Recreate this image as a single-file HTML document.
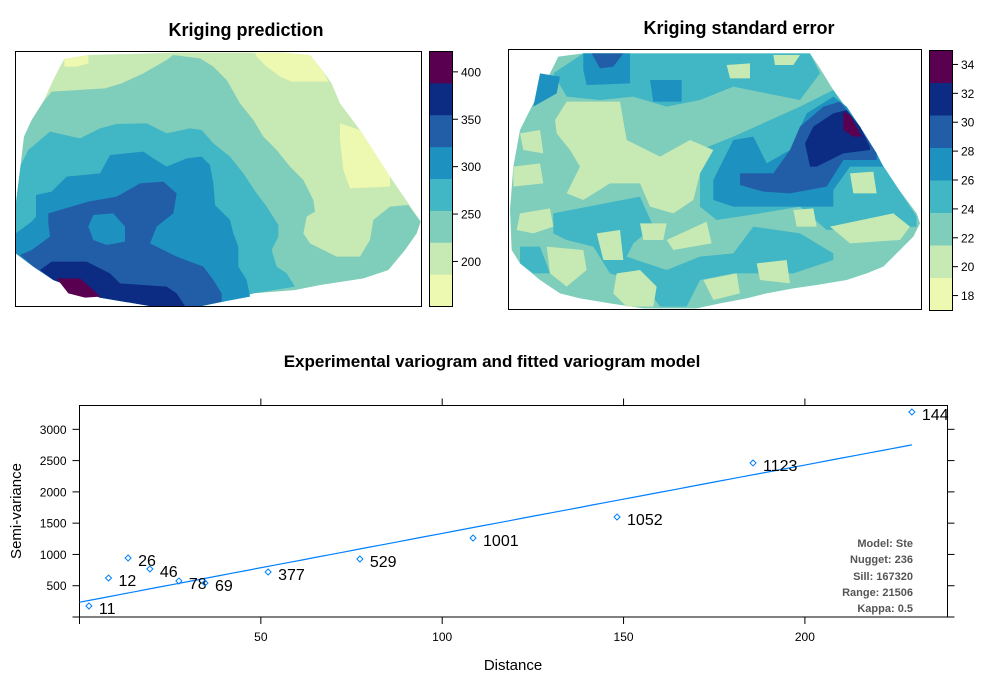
<!DOCTYPE html>
<html><head><meta charset="utf-8"><style>
html,body{margin:0;padding:0;background:#fff;}
svg{display:block;font-family:"Liberation Sans",Arial,sans-serif;}
</style></head><body>
<svg id="root" width="986" height="687" viewBox="0 0 986 687">
<text x="246" y="36" text-anchor="middle" font-size="18" font-weight="bold">Kriging prediction</text>
<text x="739" y="34" text-anchor="middle" font-size="18" font-weight="bold">Kriging standard error</text>

<g>
<g transform="translate(0,40) scale(0.33333)" stroke="none">
<polygon fill="#C7E9B4" points="193,57 265,45 520,38 850,38 930,45 970,95 995,130 1020,190 1080,270 1170,410 1225,490 1262,545 1250,580 1215,630 1165,690 1090,715 960,735 885,750 760,760 670,785 605,798 450,798 300,773 160,720 100,680 47,640 47,495 62,375 72,290 95,240 130,185 155,130 180,80"/>
<polygon fill="#EDF8B1" points="193,57 265,45 265,70 230,80 193,80"/>
<polygon fill="#EDF8B1" points="765,38 850,38 930,45 970,95 985,125 875,125 840,110 800,80 770,50"/>
<polygon fill="#EDF8B1" points="1020,250 1080,270 1170,410 1170,440 1050,445 1030,390 1020,300"/>
<polygon fill="#7FCDBB" points="155,155 315,145 365,130 430,100 500,60 520,45 600,55 640,80 680,120 720,190 760,240 790,290 830,330 870,380 910,420 940,480 945,515 920,530 910,580 930,610 1010,650 1080,650 1110,600 1120,540 1170,500 1225,495 1262,545 1250,580 1215,630 1165,690 1090,715 960,735 885,750 760,760 670,785 605,798 450,798 300,773 160,720 100,680 47,640 47,495 62,375 72,290 95,240 130,185"/>
<polygon fill="#41B6C4" points="62,375 85,330 150,275 240,295 300,265 350,252 440,250 500,280 570,265 605,270 640,310 690,350 730,400 770,460 800,500 835,555 835,590 815,630 830,680 860,700 885,740 760,760 670,785 605,798 450,798 300,773 160,720 100,680 47,640 47,495"/>
<polygon fill="#1D91C0" points="108,465 155,455 200,410 300,400 330,345 430,335 460,355 500,380 560,355 605,350 630,375 640,430 645,495 690,540 700,580 715,620 715,680 740,720 750,770 670,785 605,798 450,798 300,773 160,720 100,680 47,640 47,580 95,545 108,530"/>
<polygon fill="#225EA8" points="145,520 265,485 350,470 420,430 490,425 530,460 520,520 470,560 450,610 530,650 610,680 640,720 665,760 665,785 605,798 450,798 300,773 160,720 100,680 60,645 95,630 150,590 145,550"/>
<polygon fill="#1D91C0" points="280,525 340,520 375,560 375,605 320,615 280,600 265,560"/>
<polygon fill="#0C2C84" points="155,665 260,665 330,700 360,730 500,740 530,760 555,798 450,798 300,773 160,720 120,690"/>
<polygon fill="#5A0050" points="170,715 240,715 275,745 300,770 255,773 205,760"/>
</g>
<rect x="15.5" y="51.5" width="406" height="255" fill="none" stroke="#000"/>
</g>
<g id="cb1"></g>

<g>
<g transform="translate(500,40) scale(0.33333)" stroke="none">
<polygon fill="#7FCDBB" points="175,50 250,40 930,40 960,85 1000,150 1030,190 1080,260 1110,320 1150,380 1190,440 1220,480 1250,520 1260,550 1240,590 1200,630 1150,680 1100,700 1040,720 950,735 880,745 800,760 740,775 660,790 590,805 430,805 330,790 240,775 180,760 120,720 60,670 35,630 30,510 40,380 60,270 80,230 100,190 130,150 150,100"/>
<polygon fill="#41B6C4" points="160,100 250,40 930,40 960,100 900,180 800,160 700,140 600,180 500,200 400,170 300,180 200,170"/>
<polygon fill="#41B6C4" points="600,330 700,290 900,200 1000,150 1250,530 1250,560 980,570 900,500 780,520 650,540 600,500"/>
<polygon fill="#41B6C4" points="160,520 420,470 460,560 400,610 380,650 500,690 600,650 700,640 760,560 900,580 1000,640 1000,660 880,700 700,700 600,720 560,800 480,800 430,730 330,700 280,620 200,600 160,580"/>
<polygon fill="#41B6C4" points="60,620 120,620 150,700 100,700 60,670"/>
<polygon fill="#C7E9B4" points="200,185 360,185 380,300 480,350 570,300 640,330 600,400 580,480 520,520 450,500 420,430 330,430 250,480 200,460 240,380 210,330 170,280 165,240"/>
<polygon fill="#C7E9B4" points="40,380 120,370 130,430 40,440"/>
<polygon fill="#C7E9B4" points="60,520 150,505 160,560 100,580 50,570"/>
<polygon fill="#C7E9B4" points="140,620 250,630 260,690 200,740 150,700"/>
<polygon fill="#C7E9B4" points="290,580 360,570 370,660 310,660"/>
<polygon fill="#C7E9B4" points="420,550 500,550 490,600 430,600"/>
<polygon fill="#C7E9B4" points="500,600 620,545 635,610 520,630"/>
<polygon fill="#C7E9B4" points="350,700 420,690 470,740 460,800 380,800 340,760"/>
<polygon fill="#C7E9B4" points="610,720 710,700 720,760 640,780"/>
<polygon fill="#C7E9B4" points="770,670 860,660 870,730 780,720"/>
<polygon fill="#C7E9B4" points="990,560 1180,520 1230,560 1200,600 1050,610"/>
<polygon fill="#C7E9B4" points="880,510 940,505 950,560 890,560"/>
<polygon fill="#C7E9B4" points="1050,400 1120,395 1130,460 1060,460"/>
<polygon fill="#C7E9B4" points="680,75 750,70 750,115 690,115"/>
<polygon fill="#C7E9B4" points="820,45 900,45 880,75 825,75"/>
<polygon fill="#C7E9B4" points="60,280 120,270 130,340 70,330"/>
<polygon fill="#1D91C0" points="640,420 700,300 760,290 800,370 870,330 920,220 1000,170 1040,200 1080,260 1130,340 1150,380 1050,380 1000,450 1000,500 850,500 700,500 640,480"/>
<polygon fill="#225EA8" points="720,400 820,400 870,330 900,260 970,200 1020,185 1080,260 1130,340 1130,360 1030,360 980,440 870,460 790,455 720,435"/>
<polygon fill="#0C2C84" points="915,310 940,260 1000,220 1040,210 1080,260 1110,320 1110,330 1030,340 950,380 930,380"/>
<polygon fill="#5A0050" points="1030,215 1050,225 1085,290 1060,290 1030,270"/>
<polygon fill="#1D91C0" points="250,40 390,40 390,130 260,135 250,90"/>
<polygon fill="#225EA8" points="275,40 370,40 340,80 300,85"/>
<polygon fill="#1D91C0" points="450,120 545,120 545,185 460,185"/>
<polygon fill="#1D91C0" points="120,100 180,110 170,160 100,200"/>
</g>
<rect x="508.5" y="49.5" width="413" height="260" fill="none" stroke="#000"/>
</g>
<g id="cb2"></g>

<text x="492" y="367" text-anchor="middle" font-size="17" font-weight="bold">Experimental variogram and fitted variogram model</text>
<g id="vario"></g>
<text x="513" y="670" text-anchor="middle" font-size="15">Distance</text>
<text transform="translate(21,511) rotate(-90)" text-anchor="middle" font-size="15">Semi-variance</text>
<g font-size="11" font-weight="bold" fill="#555" text-anchor="end">
<text x="913" y="547">Model: Ste</text>
<text x="913" y="563">Nugget: 236</text>
<text x="913" y="580">Sill: 167320</text>
<text x="913" y="596">Range: 21506</text>
<text x="913" y="612">Kappa: 0.5</text>
</g>
</svg>
<script>
const NS="http://www.w3.org/2000/svg";
const bandColors=["#EDF8B1","#C7E9B4","#7FCDBB","#41B6C4","#1D91C0","#225EA8","#0C2C84","#5A0050"];
const cb1Ticks=[200,250,300,350,400];
const cb2Ticks=[18,20,22,24,26,28,30,32,34];
const distances=[2.6,8,13.4,19.4,27.4,34.6,52,77.3,108.5,148.2,185.7,229.5];
const gammas=[176,623,943,767,575,543,719,927,1263,1598,2462,3277];
const npairs=["11","12","26","46","78","69","377","529","1001","1052","1123","144"];
const xTicks=[50,100,150,200];
const yTicks=[500,1000,1500,2000,2500,3000];
const modelNugget=236, modelSill=167320, modelRange=21506, modelScale=1.419;
const modelMaxDist=229.5;

function mk(tag,attrs,parent){const e=document.createElementNS(NS,tag);for(const k in attrs)e.setAttribute(k,attrs[k]);parent.appendChild(e);return e;}

function colorbar(g,x,top,bottom,vmin,vmax,ticks){
  const n=bandColors.length,h=(bottom-top)/n;
  bandColors.forEach((c,i)=>{
    const r=mk('rect',{x:x,y:bottom-(i+1)*h,width:23,height:h+0.5,fill:c},g);
    
    
  });
  mk('rect',{x:x+0.5,y:top+0.5,width:23,height:bottom-top,fill:'none',stroke:'#000'},g);
  ticks.forEach(t=>{
    const y=bottom-(t-vmin)/(vmax-vmin)*(bottom-top);
    mk('line',{x1:x+23.5,x2:x+29,y1:y,y2:y,stroke:'#000'},g);
    const tx=mk('text',{x:x+32,y:y+4.5,'font-size':12},g);
    tx.textContent=t;
    
    
  });
}
colorbar(document.getElementById('cb1'),429,51,306,153,422,cb1Ticks);
colorbar(document.getElementById('cb2'),929,50,310,17,35,cb2Ticks);

const vg=document.getElementById('vario');
const L=79.5,R=947.5,T=405.5,B=617;
const sx=d=>79.5+d*3.627;
const sy=v=>617-v*0.06256;
mk('rect',{x:L,y:T,width:R-L,height:B-T,fill:'none',stroke:'#000'},vg);
xTicks.forEach(t=>{
  const x=sx(t);
  mk('line',{x1:x,x2:x,y1:B,y2:B+7,stroke:'#000'},vg);
  mk('line',{x1:x,x2:x,y1:T,y2:T-7,stroke:'#000'},vg);
  const tx=mk('text',{x:x,y:B+24,'font-size':12,'text-anchor':'middle'},vg);
  tx.textContent=t;
  
  
});
mk('line',{x1:L,x2:L,y1:B,y2:B+7,stroke:'#000'},vg);
mk('line',{x1:L-7,x2:L,y1:B,y2:B,stroke:'#000'},vg);
mk('line',{x1:R,x2:R+7,y1:B,y2:B,stroke:'#000'},vg);
yTicks.forEach(t=>{
  const y=sy(t);
  mk('line',{x1:L-7,x2:L,y1:y,y2:y,stroke:'#000'},vg);
  mk('line',{x1:R,x2:R+7,y1:y,y2:y,stroke:'#000'},vg);
  const tx=mk('text',{x:L-13,y:y+4.5,'font-size':12,'text-anchor':'end'},vg);
  tx.textContent=t;
  
  
});
let pts=[];
for(let i=0;i<=60;i++){
  const h=modelMaxDist*i/60;
  const g=modelNugget+modelSill*(1-Math.exp(-h*modelScale/modelRange));
  pts.push(sx(h).toFixed(1)+','+sy(g).toFixed(1));
}
const ml=mk('polyline',{points:pts.join(' '),fill:'none',stroke:'#0080ff','stroke-width':1.2},vg);


distances.forEach((d,i)=>{
  const x=sx(d),y=sy(gammas[i]);
  const p=mk('polygon',{points:`${x},${y-3} ${x+3},${y} ${x},${y+3} ${x-3},${y}`,fill:'none',stroke:'#0080ff','stroke-width':1},vg);
  
  
  const t=mk('text',{x:x+10,y:y+8,'font-size':16},vg);
  t.textContent=npairs[i];
  
  
});
</script>
</body></html>
